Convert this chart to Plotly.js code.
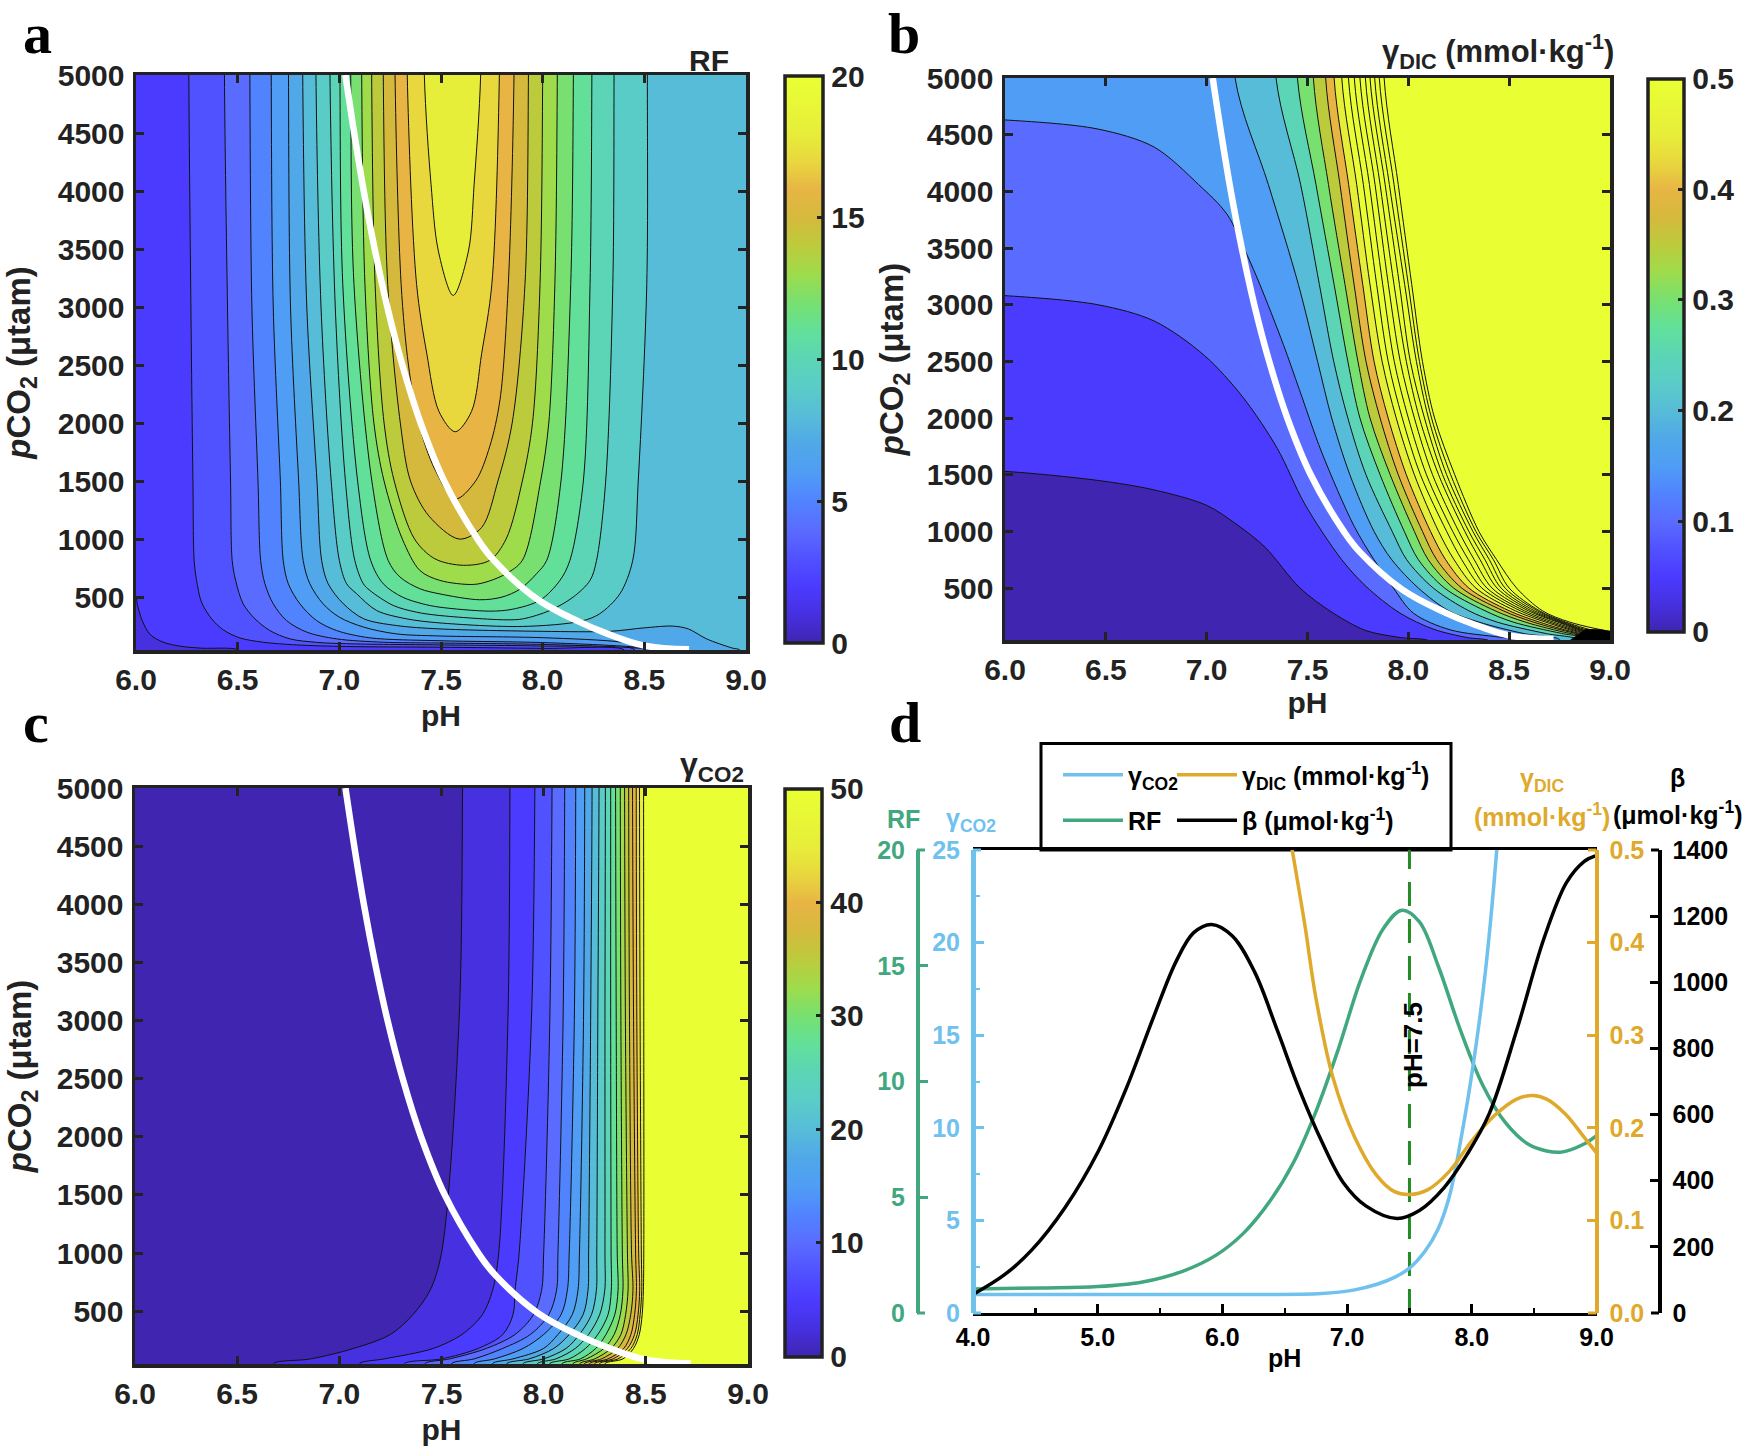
<!DOCTYPE html>
<html><head><meta charset="utf-8">
<script src="https://cdn.plot.ly/plotly-3.0.1.min.js"></script>
<style>html,body{margin:0;padding:0;background:#fff}</style></head>
<body><div id="chart" style="width:1750px;height:1451px"></div>
<script>
// ---------- shared ----------
const phTickVals=[6,6.5,7,7.5,8,8.5,9];
const phTickText=['6.0','6.5','7.0','7.5','8.0','8.5','9.0'];
const pco2Ticks=[500,1000,1500,2000,2500,3000,3500,4000,4500,5000];
const whitePH=[7.03,7.073,7.12,7.174,7.236,7.31,7.40,7.516,7.68,7.76,7.97,8.183,8.32,8.5,8.72];
const whitePCO2=[5000,4500,4000,3500,3000,2500,2000,1500,1000,817,486,284,183,82,50];
const scaleStops=[[0,'#3f25b0'],[.05,'#4630e0'],[.1,'#4b3bff'],[.15,'#5152ff'],[.2,'#5a6cff'],[.25,'#5183ff'],[.3,'#4f9df5'],[.35,'#50a8e8'],[.4,'#57bcd8'],[.45,'#5accc8'],[.5,'#5bd5b5'],[.55,'#62e09a'],[.6,'#77e070'],[.65,'#9edc4c'],[.7,'#bccb3c'],[.75,'#d5b93c'],[.8,'#e8b545'],[.85,'#e8d83e'],[.9,'#e7ee3a'],[1,'#e9ff33']];

// ---------- panel a: RF contour lines (level, pH, pCO2) ----------
const rfL2x=[5.9,6.0,6.006,6.03,6.07,6.134,6.216,6.32,6.5];
const rfL2y=[700,500,442,300,177,111,77,60,44];
const rfL3x=[6.26,6.27,6.28,6.286,6.298,6.322,6.372,6.429,6.511,6.626,6.79,7.036,7.49,8.0,8.4];
const rfL3y=[5000,3000,1500,817,644,457,313,218,148,111,88,74,68,58,46];
const rfL4x=[6.435,6.45,6.465,6.473,6.49,6.527,6.585,6.658,6.757,6.888,7.036,7.49,8.0,8.45];
const rfL4y=[5000,3000,1500,817,644,442,313,212,140,110,98,88,78,50];
const rfL5x=[6.56,6.57,6.6,6.613,6.634,6.675,6.74,6.84,6.986,7.216,7.49,8.0,8.45,8.52];
const rfL5y=[5000,3000,1500,817,615,442,298,198,140,111,104,92,62,46];
const rfL6x=[6.665,6.675,6.71,6.724,6.749,6.806,6.888,6.986,7.15,7.49,8.0,8.45,8.55];
const rfL6y=[5000,3000,1500,817,615,442,298,212,149,124,108,70,46];
const rfL7x=[6.75,6.76,6.80,6.822,6.855,6.92,7.0,7.12,7.28,7.49,8.0,8.4,8.58];
const rfL7y=[5000,3000,1500,817,615,442,327,241,183,165,150,110,46];
const rfL8x=[6.82,6.84,6.89,6.913,6.945,7.02,7.12,7.28,7.49,8.0,8.33,8.5,8.64,8.716,8.806,8.93,8.97];
const rfL8y=[5000,3000,1500,817,615,442,313,255,226,205,205,235,250,226,140,62,44];
const rfL9x=[6.885,6.91,6.96,7.0,7.036,7.085,7.183,7.33,7.49,7.9,8.19,8.28,8.38,8.443,8.47,8.512,8.515];
const rfL9y=[5000,3000,1500,817,615,529,385,313,278,247,293,356,529,817,1500,3195,5000];
const rfL10x=[6.954,6.98,7.03,7.076,7.118,7.15,7.265,7.38,7.49,7.82,7.905,8.036,8.15,8.233,8.265,8.31,8.345,8.351];
const rfL10y=[5000,3000,1500,817,615,558,428,370,342,304,313,385,500,644,817,1500,3195,5000];
const rfL11x=[7.003,7.017,7.09,7.154,7.216,7.31,7.41,7.49,7.74,7.85,7.987,8.085,8.134,8.2,8.233,8.242];
const rfL11y=[5000,3195,1500,817,615,500,442,414,379,395,473,644,817,1500,3195,5000];
const rfL12x=[7.056,7.072,7.16,7.24,7.298,7.396,7.49,7.69,7.8,7.89,7.97,8.02,8.09,8.138,8.151];
const rfL12y=[5000,3195,1500,817,673,572,529,477,500,570,702,817,1500,3195,5000];
const rfL13x=[7.11,7.126,7.17,7.22,7.31,7.396,7.494,7.66,7.74,7.82,7.9,7.99,8.03,8.06,8.072];
const rfL13y=[5000,3195,2000,1500,1000,730,644,609,640,702,817,1500,2000,3195,5000];
const rfL14x=[7.159,7.176,7.22,7.27,7.37,7.47,7.61,7.74,7.82,7.9,7.95,7.987,8.0];
const rfL14y=[5000,3195,2000,1500,1000,830,774,817,1000,1500,2000,3195,5000];
const rfL15x=[7.216,7.238,7.30,7.35,7.44,7.59,7.70,7.78,7.85,7.913,7.93];
const rfL15y=[5000,3195,2000,1500,1200,1000,1100,1500,2000,3195,5000];
const rfL16x=[7.274,7.304,7.34,7.39,7.47,7.57,7.67,7.74,7.79,7.831,7.859];
const rfL16y=[5000,3195,2500,2000,1600,1345,1500,1800,2200,3195,5000];
const rfL17x=[7.334,7.38,7.43,7.49,7.57,7.65,7.70,7.75,7.787];
const rfL17y=[5000,3195,2600,2100,1925,2100,2600,3195,5000];
const rfL18x=[7.418,7.451,7.487,7.56,7.635,7.663,7.695];
const rfL18y=[5000,4059,3483,3100,3483,4059,5000];
const rfLevels=[2,3,4,5,6,7,8,9,10,11,12,13,14,15,16,17,18];

// ---------- panel b: gamma DIC contour lines ----------
const dicL1x=[5.8,6,6.46,6.74,7.0,7.15,7.29,7.463,7.628,7.79,7.959,8.1];
const dicL1y=[1540,1530,1450,1366,1230,1060,860,500,279,125,64,35];
const dicL2x=[5.8,6,6.46,6.74,6.99,7.18,7.35,7.486,7.67,7.79,7.959,8.124,8.29,8.4];
const dicL2y=[3090,3080,3000,2856,2550,2183,1733,1243,750,515,279,138,64,35];
const dicL3x=[5.8,6,6.46,6.74,6.96,7.1,7.2,7.264,7.38,7.46,7.57,7.73,7.83,7.926,8.025,8.207,8.455,8.6];
const dicL3y=[4640,4630,4550,4390,4060,3800,3440,3177,2650,2250,1700,1050,750,500,279,132,67,35];
const dicRows=[5000,4060,3177,2500,2000,1500,1000,750,500,300,200,100,45];
const dic020=[7.141,7.306,7.455,7.55,7.62,7.71,7.83,7.918,8.05,8.2,8.35,8.57,8.75];
const dic025=[7.344,7.466,7.559,7.63,7.70,7.79,7.92,7.992,8.124,8.30,8.44,8.68,8.84];
const dic030=[7.45,7.542,7.632,7.70,7.76,7.86,7.98,8.05,8.18,8.38,8.52,8.76,8.92];
const dic035=[7.529,7.604,7.686,7.75,7.81,7.91,8.03,8.099,8.225,8.43,8.58,8.80,8.98];
const dic040=[7.59,7.661,7.731,7.79,7.86,7.95,8.07,8.141,8.265,8.47,8.62,8.83,9.02];
const dic045=[7.632,7.704,7.774,7.83,7.90,7.99,8.11,8.185,8.30,8.50,8.65,8.85,9.06];
const dic050=[7.67,7.744,7.81,7.87,7.94,8.03,8.15,8.227,8.335,8.53,8.68,8.87,9.09];
const dic055=[7.703,7.777,7.843,7.90,7.97,8.06,8.19,8.265,8.365,8.555,8.70,8.885,9.12];
const dic060=[7.732,7.807,7.873,7.93,8.0,8.09,8.22,8.298,8.39,8.575,8.72,8.90,9.15];
const dic065=[7.76,7.835,7.901,7.96,8.03,8.12,8.25,8.327,8.415,8.595,8.74,8.91,9.17];
const dic070=[7.787,7.86,7.929,7.99,8.055,8.15,8.28,8.356,8.44,8.61,8.75,8.92,9.19];
const dic075=[7.81,7.885,7.956,8.01,8.08,8.17,8.30,8.38,8.46,8.625,8.76,8.93,9.21];
const dic080=[7.833,7.906,7.982,8.04,8.10,8.19,8.32,8.402,8.48,8.64,8.77,8.95,9.23];
const dic085=[7.856,7.929,8.0,8.055,8.115,8.21,8.335,8.422,8.50,8.65,8.78,8.98,9.25];
const dic090=[7.88,7.95,8.017,8.07,8.13,8.23,8.35,8.438,8.537,8.665,8.80,9.05,9.27];
const dicFracs=[.1,.2,.3,.4,.5,.6,.7,.8,.9,1,1,1,1,1,1,1,1,1];
const dicDenseX=[8.80,8.84,8.88,8.95,9.05,9.05];
const dicDenseY=[40,90,140,137,110,40];

// ---------- panel c: gamma CO2 contour lines ----------
const co2Rows=[5000,3000,1000,680,470,300,180,90,50];
const co2L01=[7.603,7.586,7.5,7.444,7.36,7.25,7.07,6.86,6.68];
const co2L02=[7.835,7.825,7.78,7.75,7.70,7.60,7.46,7.22,7.1];
const co2L03=[7.957,7.94,7.88,7.86,7.85,7.80,7.68,7.5,7.32];
const co2L04=[8.041,8.03,8.0,7.99,7.95,7.86,7.72,7.54,7.42];
const co2L05=[8.103,8.095,8.07,8.063,8.025,7.935,7.80,7.66,7.55];
const co2L06=[8.157,8.15,8.125,8.116,8.085,8.0,7.90,7.76,7.66];
const co2L07=[8.201,8.195,8.175,8.168,8.14,8.07,8.0,7.85,7.75];
const co2L08=[8.237,8.23,8.22,8.217,8.193,8.125,8.05,7.93,7.82];
const co2L09=[8.271,8.265,8.26,8.258,8.234,8.175,8.11,8.0,7.90];
const co2L10=[8.302,8.30,8.30,8.299,8.274,8.22,8.155,8.06,7.97];
const co2L11=[8.328,8.328,8.33,8.331,8.315,8.265,8.205,8.125,8.03];
const co2L12=[8.352,8.355,8.36,8.364,8.348,8.305,8.255,8.18,8.09];
const co2L13=[8.375,8.378,8.385,8.388,8.375,8.345,8.295,8.21,8.144];
const co2L14=[8.396,8.40,8.41,8.413,8.401,8.378,8.33,8.25,8.177];
const co2L15=[8.416,8.42,8.43,8.437,8.426,8.403,8.362,8.283,8.2];
const co2L16=[8.435,8.44,8.45,8.454,8.445,8.427,8.392,8.315,8.225];
const co2L17=[8.453,8.456,8.465,8.47,8.462,8.445,8.41,8.34,8.25];
const co2L18=[8.469,8.472,8.478,8.48,8.472,8.458,8.427,8.364,8.274];
const co2L19=[8.489,8.49,8.49,8.488,8.482,8.468,8.44,8.388,8.3];
const co2Fracs=[.05,.1,.15,.2,.25,.3,.35,.4,.45,.5,.55,.6,.65,.7,.75,.8,.85,.9,1];

// ---------- panel d: curves ----------
const betaPH=[4,4.25,4.47,4.74,5.006,5.23,5.45,5.63,5.77,5.914,6.08,6.26,6.44,6.62,6.795,6.97,7.15,7.4,7.58,7.78,7.96,8.14,8.36,8.58,8.76,8.9,8.99];
const betaVal=[56,115,190,320,490,680,897,1064,1150,1175,1140,1030,855,673,520,394,324,286,310,380,478,603,855,1134,1302,1365,1382];
const rfPH=[4,4.56,5.0,5.36,5.68,5.95,6.17,6.39,6.57,6.75,6.93,7.11,7.29,7.44,7.58,7.73,7.91,8.09,8.27,8.45,8.6,8.72,8.9,9];
const rfVal=[1.04,1.08,1.14,1.34,1.8,2.5,3.45,4.9,6.5,8.7,11.4,14.4,16.6,17.4,16.9,15.0,12.2,9.82,8.22,7.3,7.0,6.95,7.3,7.66];
const co2PH=[4,5,6,6.795,7.06,7.24,7.38,7.5,7.62,7.73,7.82,7.91,8.02,8.11,8.2,8.25];
const co2Val=[1.0,1.0,1.0,1.05,1.25,1.55,1.92,2.42,3.29,4.54,6.29,9.28,13.8,18.5,25,30];
const dicPH=[6.5,6.56,6.66,6.75,6.885,7.06,7.24,7.38,7.5,7.645,7.82,8.0,8.18,8.36,8.49,8.6,8.75,8.9,9];
const dicVal=[.55,.5,.42,.34,.255,.19,.148,.131,.128,.133,.153,.186,.213,.231,.235,.231,.215,.19,.173];
const guidePH=[7.5,7.5];
const guideFrac=[0,25];

// ---------- helpers ----------
const W=1750,H=1451,INK='#222',TICK=30,FONT='"Liberation Sans",Arial,sans-serif';
const colorAt=f=>{for(let i=1;i<scaleStops.length;i++){if(f<=scaleStops[i][0])return blend(scaleStops[i-1],scaleStops[i],f);}return scaleStops[scaleStops.length-1][1];};
function blend(a,b,f){const t=(f-a[0])/(b[0]-a[0]),h=s=>[1,3,5].map(i=>parseInt(s.slice(i,i+2),16));const A=h(a[1]),B=h(b[1]);return 'rgb('+A.map((v,i)=>Math.round(v+(B[i]-v)*t)).join(',')+')';}
const dx=(a,b)=>[a/W,b/W], dy=(a,b)=>[1-b/H,1-a/H];
const TOP=6500,BOT=0,RIGHT=9.8,LEFT=5.8;
const traces=[];
const base=(xa,ya,c)=>traces.push({x:[LEFT,RIGHT,RIGHT,LEFT],y:[BOT,BOT,TOP,TOP],xaxis:xa,yaxis:ya,mode:'lines',fill:'toself',fillcolor:c,line:{width:0},hoverinfo:'skip',showlegend:false});
function openBand(xa,ya,xs,ys,c){
 const x=[xs[0],...xs,xs[xs.length-1],RIGHT,RIGHT,xs[0]];
 const y=[TOP,...ys,BOT,BOT,TOP,TOP];
 if(xs[0]===LEFT||ys[0]<5000){x[0]=xs[0];y[0]=ys[0];x.splice(x.length-1,1,LEFT);y.splice(y.length-1,1,TOP);}
 traces.push({x,y,xaxis:xa,yaxis:ya,mode:'lines',fill:'toself',fillcolor:c,line:{color:'#111',width:1,shape:'spline',smoothing:.9},hoverinfo:'skip',showlegend:false});
}
function uBand(xa,ya,xs,ys,c){
 const x=[xs[0],...xs,xs[xs.length-1]],y=[TOP,...ys,TOP];
 traces.push({x,y,xaxis:xa,yaxis:ya,mode:'lines',fill:'toself',fillcolor:c,line:{color:'#111',width:1,shape:'spline',smoothing:.9},hoverinfo:'skip',showlegend:false});
}
const white=(xa,ya)=>traces.push({x:whitePH,y:whitePCO2,xaxis:xa,yaxis:ya,mode:'lines',line:{color:'#fff',width:6.5,shape:'spline',smoothing:1.1},hoverinfo:'skip',showlegend:false});
const bar=(xa,ya,cmax,x0,y0,len,th,vals,text)=>traces.push({x:[7.5],y:[2500],xaxis:xa,yaxis:ya,mode:'markers',hoverinfo:'skip',showlegend:false,
 marker:{size:1,opacity:0,color:[0],cmin:0,cmax:cmax,colorscale:scaleStops,showscale:true,colorbar:{x:x0/W,xanchor:'left',y:1-y0/H,yanchor:'top',yref:'paper',len:len,lenmode:'pixels',thickness:th,thicknessmode:'pixels',xpad:0,ypad:0,outlinewidth:3.5,outlinecolor:INK,borderwidth:0,ticks:'inside',ticklen:7,tickwidth:3,tickcolor:INK,tickmode:'array',tickvals:vals,ticktext:text,ticklabelstandoff:6,tickfont:{family:FONT,size:TICK,weight:700,color:INK}}}});

// panel a
base('x','y',colorAt(.05));
const aLines=[[rfL2x,rfL2y],[rfL3x,rfL3y],[rfL4x,rfL4y],[rfL5x,rfL5y],[rfL6x,rfL6y],[rfL7x,rfL7y],[rfL8x,rfL8y],[rfL9x,rfL9y],[rfL10x,rfL10y],[rfL11x,rfL11y],[rfL12x,rfL12y],[rfL13x,rfL13y],[rfL14x,rfL14y],[rfL15x,rfL15y],[rfL16x,rfL16y],[rfL17x,rfL17y],[rfL18x,rfL18y]];
aLines.forEach((l,i)=>{const lev=rfLevels[i],c=colorAt(lev/20);(lev<=8?openBand:uBand)('x','y',l[0],l[1],c);});
white('x','y');
bar('x','y',20,785,76,567,38,[0,5,10,15,20],['0','5','10','15','20']);

// panel b
base('x2','y2',colorAt(0));
const bOwn=[[dicL1x,dicL1y],[dicL2x,dicL2y],[dicL3x,dicL3y]];
bOwn.forEach((l,i)=>openBand('x2','y2',l[0],l[1],colorAt(dicFracs[i])));
[dic020,dic025,dic030,dic035,dic040,dic045,dic050,dic055,dic060,dic065,dic070,dic075,dic080,dic085,dic090].forEach((l,i)=>openBand('x2','y2',l,dicRows,colorAt(dicFracs[i+3])));
traces.push({x:dicDenseX,y:dicDenseY,xaxis:'x2',yaxis:'y2',mode:'lines',fill:'toself',fillcolor:'#000',line:{width:0},hoverinfo:'skip',showlegend:false});
white('x2','y2');
bar('x2','y2',.5,1648,78.6,553,36,[0,.1,.2,.3,.4,.5],['0','0.1','0.2','0.3','0.4','0.5']);

// panel c
base('x3','y3',colorAt(0));
[co2L01,co2L02,co2L03,co2L04,co2L05,co2L06,co2L07,co2L08,co2L09,co2L10,co2L11,co2L12,co2L13,co2L14,co2L15,co2L16,co2L17,co2L18,co2L19].forEach((l,i)=>openBand('x3','y3',l,co2Rows,colorAt(co2Fracs[i])));
white('x3','y3');
bar('x3','y3',50,785,788.5,568,37,[0,10,20,30,40,50],['0','10','20','30','40','50']);

// panel d
const GREEN='#41a77e',BLUE='#6fc1ee',GOLD='#dfa92b',DASH='#228b22';
traces.push({x:guidePH,y:guideFrac,xaxis:'x4',yaxis:'y5',mode:'lines',line:{color:DASH,width:3,dash:'24px,13px'},hoverinfo:'skip',showlegend:false});
const leg={mode:'lines',hoverinfo:'skip'};
traces.push({...leg,x:co2PH,y:co2Val,xaxis:'x4',yaxis:'y5',name:'γ<sub>CO2</sub>',legendgroup:'g1',line:{color:BLUE,width:3.5,shape:'spline'},legend:'legend'});
traces.push({...leg,x:rfPH,y:rfVal,xaxis:'x4',yaxis:'y4',name:'RF',legendgroup:'g2',line:{color:GREEN,width:3.5,shape:'spline'},legend:'legend'});
traces.push({...leg,x:dicPH,y:dicVal,xaxis:'x4',yaxis:'y6',name:'γ<sub>DIC</sub> (mmol·kg<sup>-1</sup>)',legendgroup:'g3',line:{color:GOLD,width:3.5,shape:'spline'},legend:'legend2'});
traces.push({...leg,x:betaPH,y:betaVal,xaxis:'x4',yaxis:'y7',name:'β (μmol·kg<sup>-1</sup>)',legendgroup:'g4',line:{color:'#000',width:3.5,shape:'spline'},legend:'legend2'});

// axes
const tfont={family:FONT,size:TICK,weight:700,color:INK};
const xAxis=(a,b,anchor,st)=>({domain:dx(a,b),anchor,range:[6,9],tickmode:'array',tickvals:phTickVals,ticktext:phTickText,ticks:'inside',ticklen:8,tickwidth:3,tickcolor:INK,linecolor:INK,linewidth:3.5,showline:true,mirror:'allticks',showgrid:false,zeroline:false,tickfont:tfont,ticklabelstandoff:0,title:{text:'pH',font:tfont,standoff:st}});
const yAxis=(a,b,lo,anchor,st)=>({domain:dy(a,b),anchor,range:[lo,5000],tickmode:'array',tickvals:pco2Ticks,ticks:'inside',ticklen:8,tickwidth:3,tickcolor:INK,linecolor:INK,linewidth:3.5,showline:true,mirror:'allticks',showgrid:false,zeroline:false,tickfont:tfont,ticklabelstandoff:2,title:{text:'<i>p</i>CO<sub>2</sub> (μtam)',font:{...tfont,size:33},standoff:st}});
const dFont=(c)=>({family:FONT,size:25,weight:700,color:c});
const D=dy(850,1313), sideAxis=(pos,side,color,range,dtick,lw,extra)=>({domain:D,anchor:'free',position:pos/W,side,range,dtick,tick0:0,ticks:'inside',ticklen:8,tickwidth:3,tickcolor:color,linecolor:color,linewidth:lw,showline:true,showgrid:false,zeroline:false,tickfont:dFont(color),ticklabelstandoff:6,...extra});
const ann=(text,x,y,size,color,anchor,extra)=>({text,xref:'paper',yref:'paper',x:x/W,y:1-y/H,xanchor:anchor||'center',yanchor:'middle',showarrow:false,font:{family:FONT,size,weight:700,color},...extra});
const lab=(t,x,y)=>ann(t,x,y,58,'#000','left',{font:{family:'"Liberation Serif",serif',size:58,weight:700,color:'#000'}});
const stub=(x0,x1,y,c)=>({type:'line',xref:'paper',yref:'paper',x0:x0/W,x1:x1/W,y0:1-y/H,y1:1-y/H,line:{color:c,width:3},layer:'above'});
const stubs=[[917,925,GREEN],[973,981,BLUE],[1596.5,1588,GOLD],[1659,1651,'#000']].flatMap(s=>[stub(s[0],s[1],850,s[2]),stub(s[0],s[1],1313,s[2])]);

const layout={width:W,height:H,margin:{l:0,r:0,t:0,b:0},paper_bgcolor:'#fff',plot_bgcolor:'#fff',
 xaxis:xAxis(136,746,'y',11),yaxis:yAxis(75,650,44,'x',18),
 xaxis2:xAxis(1005,1610,'y2',7),yaxis2:yAxis(78,640,42,'x2',14),
 xaxis3:xAxis(135,748,'y3',11),yaxis3:yAxis(788,1364,46,'x3',16),
 xaxis4:{domain:dx(973,1596.5),anchor:'y4',range:[4,9],dtick:1,tick0:4,tickformat:'.1f',ticks:'inside',ticklen:9,tickwidth:3,tickcolor:'#000',linecolor:'#000',linewidth:3,showline:true,mirror:true,showgrid:false,zeroline:false,tickfont:dFont('#000'),minor:{dtick:.5,ticks:'inside',ticklen:5,tickwidth:2.5,tickcolor:'#000'},title:{text:'pH',font:dFont('#000'),standoff:0}},
 yaxis4:sideAxis(917,'left',GREEN,[0,20],5,3.5,{}),
 yaxis5:{...sideAxis(973,'left',BLUE,[0,25],5,4.5,{minor:{dtick:2.5,ticks:'inside',ticklen:4,tickwidth:2,tickcolor:BLUE}}),overlaying:'y4'},
 yaxis6:{...sideAxis(1596.5,'right',GOLD,[0,.5],.1,4,{tickformat:'.1f'}),overlaying:'y4'},
 yaxis7:{...sideAxis(1659,'right','#000',[0,1400],200,3.5,{}),overlaying:'y4'},
 legend:{x:1058/W,y:1-752/H,xanchor:'left',yanchor:'top',bgcolor:'rgba(0,0,0,0)',font:dFont('#000'),itemwidth:60,tracegroupgap:10,itemclick:false,itemdoubleclick:false},
 legend2:{x:1172/W,y:1-752/H,xanchor:'left',yanchor:'top',bgcolor:'rgba(0,0,0,0)',font:dFont('#000'),itemwidth:60,tracegroupgap:10,itemclick:false,itemdoubleclick:false},
 shapes:[{type:'rect',xref:'paper',yref:'paper',x0:1041/W,x1:1451/W,y0:1-743.5/H,y1:1-850/H,line:{color:'#000',width:3},fillcolor:'#fff',layer:'below'},...stubs],
 annotations:[
  lab('a',21,34),lab('b',886,34),lab('c',21,722),lab('d',887,722),
  ann('RF',709,60,30,INK),
  ann('γ<sub>DIC</sub> (mmol·kg<sup>-1</sup>)',1616,51,31,INK,'right'),
  ann('γ<sub>CO2</sub>',746,767,32,INK,'right'),
  ann('RF',903,819,25,GREEN),
  ann('γ<sub>CO2</sub>',971,820,25,BLUE),
  ann('γ<sub>DIC</sub>',1542,780,25,GOLD),
  ann('(mmol·kg<sup>-1</sup>)',1542,815,25,GOLD),
  ann('β',1677,778,25,'#000'),
  ann('(μmol·kg<sup>-1</sup>)',1677,813,25,'#000'),
  ann('pH=7.5',1413,1045,26,'#000','center',{textangle:-90})
 ]};
Plotly.newPlot('chart',traces,layout,{staticPlot:true,displayModeBar:false});
</script></body></html>
